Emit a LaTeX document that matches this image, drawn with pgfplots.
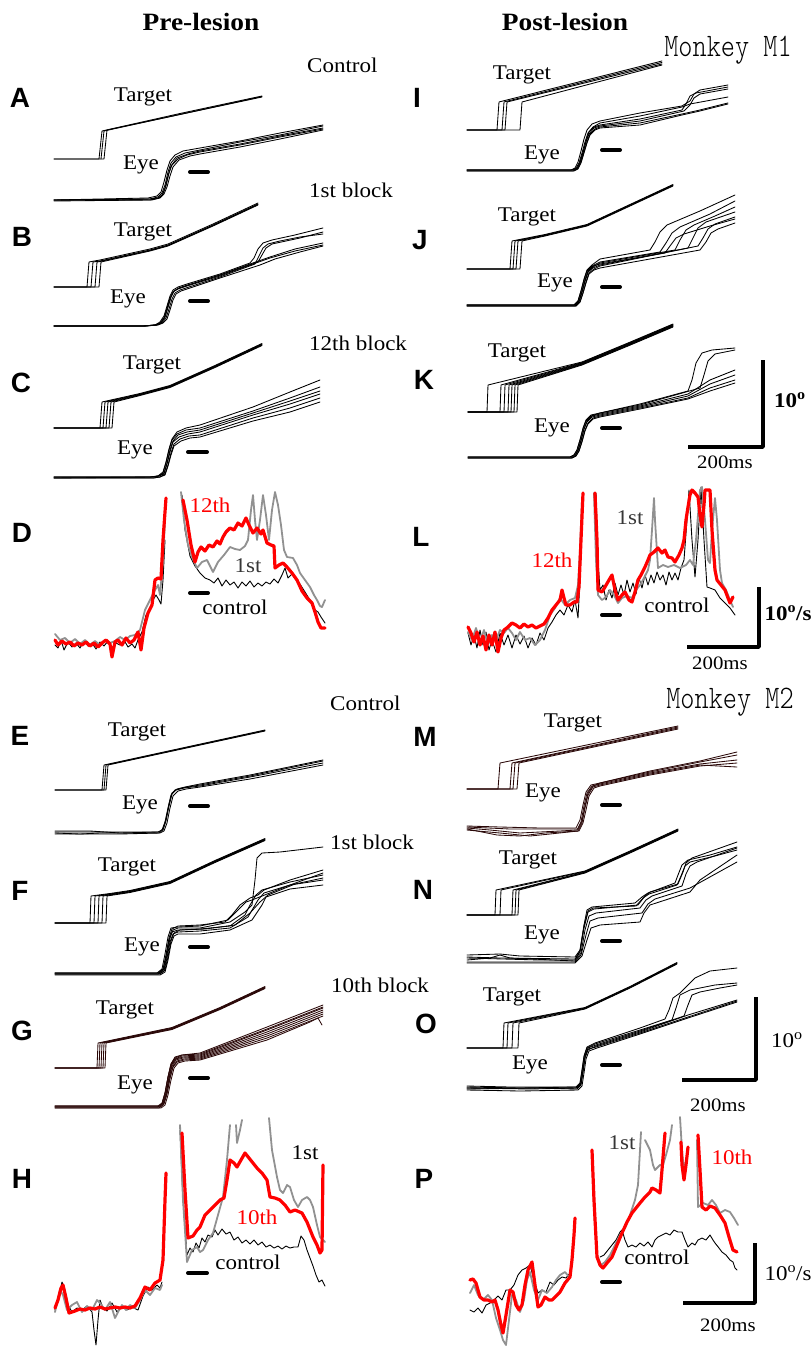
\documentclass[border=0pt]{standalone}
\usepackage{pgfplots}
\pgfplotsset{compat=1.18}
\usepackage{fontspec}
\setmainfont{Liberation Serif}[FakeStretch=1.1]
\newfontfamily\lsans{Liberation Sans}
\newfontfamily\lmono{Latin Modern Mono Light}[FakeStretch=0.82]
\definecolor{vgray}{RGB}{145,145,145}
\definecolor{dbrown}{RGB}{42,8,8}
\definecolor{dgray}{RGB}{55,55,55}
\tikzset{
 tr/.style={black, line width=0.85bp},
 trb/.style={dbrown, line width=0.85bp},
 vc/.style={black, line width=0.9bp},
 vg/.style={vgray, line width=1.8bp},
 vr/.style={red, line width=3.2bp},
 hb/.style={black, line width=4bp},
 sb/.style={black, line width=3.5bp},
 lab/.style={font=\fontsize{21}{24}\selectfont, inner sep=0pt},
 plab/.style={font=\lsans\bfseries\fontsize{28}{30}\selectfont, inner sep=0pt},
 ttl/.style={font=\bfseries\fontsize{25}{28}\selectfont, inner sep=0pt},
}
\begin{document}
\begin{tikzpicture}
\begin{axis}[
  width=810bp, height=1351bp, scale only axis,
  xmin=0, xmax=810, ymin=0, ymax=1351, y dir=reverse,
  hide axis, clip=false, no markers,
  every axis plot/.append style={line join=round, line cap=round},
]
\path (axis cs:0,0) rectangle (axis cs:810,1351);
% ---------- titles ----------
\node[ttl] at (axis cs:201,22) {Pre-lesion};
\node[ttl] at (axis cs:565,22) {Post-lesion};
\node[font=\lmono\fontsize{33}{36}\selectfont, inner sep=0pt] at (axis cs:728,50) {Monkey M1};
\node[font=\lmono\fontsize{33}{36}\selectfont, inner sep=0pt] at (axis cs:730,702) {Monkey M2};
% ---------- panel letters ----------
\node[plab] at (axis cs:20,98) {A};
\node[plab] at (axis cs:22,237) {B};
\node[plab] at (axis cs:21,383) {C};
\node[plab] at (axis cs:22,533) {D};
\node[plab] at (axis cs:20,736) {E};
\node[plab] at (axis cs:20,891) {F};
\node[plab] at (axis cs:22,1031) {G};
\node[plab] at (axis cs:22,1179) {H};
\node[plab] at (axis cs:417,98) {I};
\node[plab] at (axis cs:420,240) {J};
\node[plab] at (axis cs:424,380) {K};
\node[plab] at (axis cs:421,537) {L};
\node[plab] at (axis cs:425,737) {M};
\node[plab] at (axis cs:423,890) {N};
\node[plab] at (axis cs:426,1024) {O};
\node[plab] at (axis cs:424,1179) {P};
% ================= PANEL A =================
\addplot[tr] coordinates {(54,159)(99,159)(102,131)(180,113.5)(262,96)};
\addplot[tr] coordinates {(54,159)(104,159)(107,130)(180,114.5)(262,97)};
\addplot[tr] coordinates {(101,159)(104,131)(262,96.5)};
\addplot[tr] coordinates {(54,200)(120,200)(150,199)(158,197)(162,193)(165,185)(168,172)(171,163)(176,157)(185,153)(200,150)(240,142)(280,135)(323,126)};
\addplot[tr] coordinates {(54,201)(150,200)(159,198)(163,194)(166,186)(169,173)(172,165)(178,159)(187,155)(200,152)(240,145)(280,137)(323,129)};
\addplot[tr] coordinates {(54,200)(148,198)(157,196)(161,192)(164,182)(167,170)(170,161)(175,155)(183,151)(200,148)(240,141)(280,133)(323,125)};
\addplot[tr] coordinates {(54,200)(152,200)(160,198)(164,194)(167,187)(170,176)(173,167)(179,160)(190,156)(200,154)(240,147)(280,139)(323,130)};
\addplot[tr] coordinates {(54,200)(150,199)(158,198)(162,195)(165,188)(168,176)(171,166)(177,158)(188,154)(200,151)(240,144)(280,136)(323,128)};
\addplot[hb] coordinates {(190,172)(208,172)};
\node[lab] at (axis cs:143,97) {Target};
\node[lab] at (axis cs:141,165) {Eye};
\node[lab,anchor=west] at (axis cs:307,65) {Control};
% ================= PANEL B =================
\addplot[tr] coordinates {(54,287)(87,287)(89,262)(100,260)(150,249)(168,244)(213,224)(258,203)};
\addplot[tr] coordinates {(54,287)(91,287)(93,262)(100,261)(150,250)(168,245)(213,225)(258,204)};
\addplot[tr] coordinates {(54,287)(95,287)(97,262)(100,261.5)(150,250.5)(168,245.5)(213,225.5)(258,204.5)};
\addplot[tr] coordinates {(54,287)(99,287)(101,262)(150,251)(168,246)(213,226)(258,205)};
\addplot[tr] coordinates {(54,326)(143,326)(155,325)(160,323)(164,318)(167,308)(170,298)(173,292)(178,289)(187,286)(220,276)(253,264)(270,258)(295,251)(323,245)};
\addplot[tr] coordinates {(54,326)(144,326)(156,325)(161,323)(165,317)(168,307)(171,297)(174,291)(179,288)(188,285)(220,275)(250,264)(270,257)(295,249)(323,243)};
\addplot[tr] coordinates {(54,326)(143,326)(155,325)(160,322)(164,316)(167,306)(170,296)(173,290)(178,287)(187,284)(220,274)(250,263)(254,258)(258,249)(263,243)(272,240)(295,235)(323,228)};
\addplot[tr] coordinates {(54,326)(145,326)(157,325)(162,323)(166,318)(169,309)(172,299)(175,293)(180,290)(189,287)(220,277)(255,264)(259,256)(263,248)(268,244)(280,241)(300,237)(323,234)};
\addplot[tr] coordinates {(54,326)(144,326)(156,325)(161,323)(165,317)(168,307)(171,297)(174,291)(179,288)(188,285)(220,275)(258,262)(262,255)(266,248)(272,244)(300,238)(323,232)};
\addplot[tr] coordinates {(54,326)(146,326)(158,325)(163,323)(167,319)(170,310)(173,300)(176,294)(181,291)(190,288)(220,278)(260,265)(275,259)(300,252)(323,246)};
\addplot[hb] coordinates {(190,301)(208,301)};
\node[lab] at (axis cs:143,232) {Target};
\node[lab] at (axis cs:128,299) {Eye};
\node[lab,anchor=west] at (axis cs:309,190) {1st block};
% ================= PANEL C =================
\addplot[tr] coordinates {(54,428)(100,428)(102,402)(140,393.5)(170,385.5)(215,365.5)(262,343.5)};
\addplot[tr] coordinates {(54,428)(103,428)(105,402)(140,394)(170,386)(215,366)(262,344)};
\addplot[tr] coordinates {(54,428)(106,428)(108,402)(140,394.5)(170,386.5)(215,366.5)(262,344.5)};
\addplot[tr] coordinates {(54,428)(109,428)(111,402)(140,395)(170,387)(215,367)(262,345)};
\addplot[tr] coordinates {(54,428)(112,428)(114,402)(140,395.5)(170,387.5)(215,367.5)(262,345.5)};
\addplot[tr] coordinates {(54,477)(150,477)(158,476)(163,472)(166,462)(169,449)(172,439)(177,432)(186,428)(200,425)(253,407)(290,392)(320,380)};
\addplot[tr] coordinates {(54,477)(150,477)(158,476)(163,473)(166,463)(169,450)(172,440)(177,434)(186,430)(200,428)(253,411)(290,398)(320,387)};
\addplot[tr] coordinates {(54,478)(152,477)(159,476)(164,473)(167,463)(170,450)(173,441)(178,435)(187,432)(200,430)(253,413)(290,401)(320,391)};
\addplot[tr] coordinates {(54,477)(152,477)(159,476)(164,474)(167,464)(170,452)(173,442)(179,437)(188,434)(200,432)(253,415)(290,404)(320,394)};
\addplot[tr] coordinates {(54,478)(153,478)(160,477)(165,474)(168,465)(171,453)(174,444)(180,439)(189,436)(200,435)(253,418)(290,408)(320,398)};
\addplot[tr] coordinates {(54,478)(153,478)(160,477)(165,475)(168,466)(171,455)(174,446)(181,441)(190,438)(200,437)(253,421)(290,412)(320,402)};
\addplot[hb] coordinates {(188,452)(207,452)};
\node[lab] at (axis cs:152,365) {Target};
\node[lab] at (axis cs:135,450) {Eye};
\node[lab,anchor=west] at (axis cs:309,343) {12th block};
% ================= PANEL D =================
\addplot[vc] coordinates {(55,645)(58,648)(61,640)(64,650)(68,642)(72,647)(76,643)(80,648)(84,641)(88,646)(92,643)(96,649)(100,642)(104,646)(108,641)(112,648)(116,643)(120,645)(124,640)(128,647)(132,644)(135,648)(138,640)(142,632)(146,615)(150,610)(153,600)(156,595)(159,600)(161,604)(163,580)(165,540)};
\addplot[vg] coordinates {(55,634)(60,640)(65,638)(70,643)(75,639)(80,644)(85,640)(90,645)(95,641)(100,645)(105,640)(110,643)(115,641)(120,637)(125,640)(130,636)(135,635)(140,630)(145,610)(150,600)(155,590)(158,585)(160,595)(163,560)(165,520)};
\addplot[vr] coordinates {(55,640)(58,645)(62,641)(66,644)(70,642)(74,646)(78,643)(82,645)(86,642)(90,646)(94,643)(98,647)(102,643)(106,640)(110,644)(112,657)(115,642)(118,640)(122,645)(126,638)(130,643)(134,640)(138,632)(141,650)(144,628)(148,613)(152,605)(155,580)(158,578)(161,579)(163,540)(166,498)};
\addplot[vc] coordinates {(182,495)(185,530)(190,556)(195,566)(200,573)(205,578)(210,580)(214,583)(218,578)(222,586)(226,580)(230,585)(234,582)(238,588)(242,582)(246,586)(250,581)(254,587)(258,583)(262,586)(266,582)(270,584)(274,579)(278,583)(282,575)(285,568)(288,578)(292,574)(296,580)(300,584)(305,592)(310,600)(315,610)(318,612)(321,617)(325,623)};
\addplot[vg] coordinates {(181,492)(184,520)(188,545)(192,557)(197,568)(202,562)(207,560)(211,568)(213,572)(218,562)(224,555)(230,547)(235,549)(240,550)(245,546)(248,540)(251,510)(253,495)(255,520)(257,540)(260,520)(263,495)(266,515)(269,540)(272,510)(275,492)(278,505)(281,525)(284,550)(287,557)(293,558)(297,565)(300,573)(305,580)(310,587)(314,595)(317,600)(320,606)(322,607)(325,600)};
\addplot[vr] coordinates {(183,500)(187,520)(191,545)(195,562)(198,552)(201,547)(205,551)(209,545)(213,547)(217,541)(220,544)(223,537)(226,532)(230,528)(234,530)(238,523)(242,526)(246,518)(249,525)(253,533)(257,528)(261,534)(263,530)(267,543)(271,545)(274,546)(275,568)(279,565)(283,563)(287,567)(292,573)(297,580)(302,591)(307,598)(312,603)(315,612)(318,622)(321,628)(325,628)};
\addplot[hb] coordinates {(190,593)(208,593)};
\node[lab, text=red] at (axis cs:210,505) {12th};
\node[lab, text=dgray] at (axis cs:248,566) {1st};
\node[lab] at (axis cs:235,607) {control};
% ================= PANEL E =================
\addplot[tr] coordinates {(55,790)(102,790)(104,765)(265,730)};
\addplot[tr] coordinates {(55,790)(104,790)(106,765)(265,730.5)};
\addplot[tr] coordinates {(55,790)(106,790)(108,765)(265,731)};
\addplot[tr] coordinates {(55,831)(90,831)(120,833)(158,832)(162,830)(165,822)(168,808)(171,795)(175,790)(182,788)(200,785)(250,776)(323,761)};
\addplot[tr] coordinates {(55,833)(80,834)(100,833)(159,833)(163,830)(166,821)(169,806)(172,794)(176,790)(184,788)(200,786)(250,777)(323,763)};
\addplot[tr] coordinates {(55,832)(159,832)(163,829)(166,819)(169,804)(172,793)(177,789)(185,787)(200,784)(250,775)(323,760)};
\addplot[tr] coordinates {(55,834)(120,834)(160,833)(164,831)(167,823)(170,808)(173,796)(178,791)(186,789)(200,787)(250,779)(323,765)};
\addplot[hb] coordinates {(190,806)(208,806)};
\node[lab] at (axis cs:137,732) {Target};
\node[lab] at (axis cs:140,805) {Eye};
\node[lab,anchor=west] at (axis cs:330,703) {Control};
% ================= PANEL F =================
\addplot[tr] coordinates {(55,923)(90,923)(91,896)(110,893.5)(130,890.5)(170,881.5)(215,860.5)(265,838.5)};
\addplot[tr] coordinates {(55,923)(94,923)(95,896)(110,894)(130,891)(170,882)(215,861)(265,839)};
\addplot[tr] coordinates {(55,923)(98,923)(99,896)(110,894.5)(130,891.5)(170,882.5)(215,861.5)(265,839.5)};
\addplot[tr] coordinates {(55,923)(102,923)(103,896)(110,895)(130,892)(170,883)(215,862)(265,840)};
\addplot[tr] coordinates {(55,923)(106,923)(107,896)(110,895.5)(130,892.5)(170,883.5)(215,862.5)(265,840.5)};
\addplot[tr] coordinates {(55,973)(158,973)(163,969)(166,955)(169,938)(172,929)(178,926)(200,925)(225,922)(232,915)(240,905)(250,898)(258,895)(264,890)(290,880)(323,870)};
\addplot[tr] coordinates {(55,974)(158,974)(163,970)(166,957)(169,940)(172,932)(178,930)(200,929)(230,926)(245,915)(250,905)(256,895)(262,890)(290,882)(323,875)};
\addplot[tr] coordinates {(55,973)(159,973)(164,969)(167,955)(170,938)(173,930)(178,928)(200,928)(230,922)(245,912)(252,905)(255,880)(257,858)(262,853)(280,852)(323,847)};
\addplot[tr] coordinates {(55,974)(159,974)(164,971)(167,958)(170,942)(173,934)(178,932)(200,931)(230,928)(248,917)(258,900)(264,893)(290,885)(323,880)};
\addplot[tr] coordinates {(55,975)(160,975)(165,972)(168,960)(171,944)(174,936)(178,934)(200,934)(230,930)(252,920)(262,905)(266,897)(290,889)(323,885)};
\addplot[tr] coordinates {(55,973)(157,973)(162,969)(165,954)(168,937)(171,928)(178,927)(200,926)(228,920)(240,908)(246,902)(252,900)(290,885)(323,873)};
\addplot[tr] coordinates {(55,974)(160,974)(165,970)(168,957)(171,941)(174,933)(180,930)(205,929)(235,925)(250,913)(260,902)(268,895)(295,884)(323,878)};
\addplot[hb] coordinates {(190,947)(208,947)};
\node[lab] at (axis cs:127,867) {Target};
\node[lab] at (axis cs:142,947) {Eye};
\node[lab,anchor=west] at (axis cs:330,842) {1st block};
% ================= PANEL G =================
\addplot[trb] coordinates {(55,1068)(97,1068)(98,1043)(172,1027.5)(220,1007.5)(265,986.5)};
\addplot[trb] coordinates {(55,1068)(99,1068)(100,1043)(172,1028)(220,1008)(265,987)};
\addplot[trb] coordinates {(55,1068)(101,1068)(102,1043)(172,1028.5)(220,1008.5)(265,987.5)};
\addplot[trb] coordinates {(55,1068)(103,1068)(104,1043)(172,1029)(220,1009)(265,988)};
\addplot[trb] coordinates {(55,1068)(105,1068)(106,1043)(172,1029.5)(220,1009.5)(265,988.5)};
\addplot[trb] coordinates {(55,1106)(158,1106)(162,1103)(165,1093)(168,1077)(171,1064)(175,1058)(182,1055)(200,1053)(267,1027)(323,1005)};
\addplot[trb] coordinates {(55,1107)(158,1107)(162,1104)(165,1094)(168,1078)(171,1065)(175,1059)(182,1056)(200,1055)(267,1030)(323,1008)};
\addplot[trb] coordinates {(55,1106)(159,1106)(163,1103)(166,1093)(169,1077)(172,1064)(176,1059)(183,1057)(200,1056)(267,1032)(323,1010)};
\addplot[trb] coordinates {(55,1108)(159,1108)(163,1105)(166,1095)(169,1079)(172,1066)(176,1060)(183,1058)(200,1057)(267,1034)(323,1012)};
\addplot[trb] coordinates {(55,1107)(160,1107)(164,1104)(167,1094)(170,1078)(173,1066)(177,1061)(184,1059)(200,1058)(267,1036)(323,1014)};
\addplot[trb] coordinates {(55,1106)(160,1106)(164,1103)(167,1093)(170,1078)(173,1067)(177,1062)(184,1060)(200,1059)(267,1038)(300,1025)(323,1016)};
\addplot[trb] coordinates {(55,1108)(161,1108)(165,1105)(168,1095)(171,1080)(174,1068)(178,1063)(185,1061)(200,1060)(267,1040)(310,1022)(318,1018)(322,1025)};
\addplot[trb] coordinates {(55,1107)(158,1107)(162,1104)(165,1093)(168,1077)(171,1064)(175,1057)(182,1055)(200,1054)(267,1029)(323,1007)};
\addplot[hb] coordinates {(190,1078)(208,1078)};
\node[lab] at (axis cs:125,1010) {Target};
\node[lab] at (axis cs:135,1085) {Eye};
\node[lab,anchor=west] at (axis cs:331,985) {10th block};
% ================= PANEL H =================
\addplot[vc] coordinates {(55,1310)(58,1300)(62,1282)(65,1290)(68,1305)(72,1312)(77,1308)(82,1310)(87,1306)(92,1312)(94,1330)(96,1345)(98,1320)(100,1300)(103,1308)(107,1311)(112,1303)(117,1312)(122,1306)(127,1310)(132,1307)(138,1310)(143,1296)(148,1287)(152,1290)(157,1285)(160,1288)(162,1282)};
\addplot[vg] coordinates {(55,1312)(60,1290)(63,1295)(67,1310)(72,1305)(77,1302)(82,1312)(87,1306)(92,1310)(97,1300)(100,1303)(105,1310)(110,1302)(115,1318)(118,1312)(122,1305)(126,1310)(130,1305)(135,1308)(140,1300)(145,1290)(150,1295)(155,1288)(160,1290)(162,1285)};
\addplot[vr] coordinates {(55,1308)(58,1300)(61,1288)(63,1285)(66,1298)(69,1313)(75,1311)(80,1309)(85,1310)(90,1308)(95,1309)(100,1307)(105,1309)(110,1308)(115,1307)(120,1308)(125,1307)(130,1308)(135,1306)(140,1298)(145,1287)(150,1290)(155,1283)(160,1280)(163,1260)(165,1200)(166,1173)};
\addplot[vc] coordinates {(180,1130)(183,1200)(187,1255)(190,1248)(193,1252)(196,1243)(199,1248)(202,1238)(205,1242)(208,1235)(212,1237)(215,1230)(218,1235)(222,1229)(226,1234)(230,1232)(234,1240)(238,1237)(242,1243)(246,1240)(250,1244)(254,1240)(258,1245)(262,1242)(266,1247)(270,1245)(274,1248)(278,1246)(282,1249)(286,1246)(290,1248)(294,1247)(298,1247)(301,1236)(304,1240)(307,1250)(310,1258)(313,1266)(316,1275)(319,1282)(322,1280)(325,1286)};
\addplot[vg] coordinates {(180,1125)(183,1200)(187,1262)(192,1250)(197,1247)(200,1252)(203,1250)(208,1240)(213,1233)(218,1215)(223,1197)(227,1160)(230,1125)};
\addplot[vg] coordinates {(236,1125)(237,1143)(240,1130)(242,1120)};
\addplot[vg] coordinates {(269,1118)(272,1150)(277,1177)(280,1190)(283,1193)(287,1185)(290,1187)(294,1200)(298,1207)(302,1200)(307,1197)(310,1200)(313,1207)(317,1225)(320,1237)(325,1242)};
\addplot[vr] coordinates {(182,1133)(185,1190)(188,1238)(193,1236)(197,1230)(200,1227)(205,1215)(210,1210)(215,1205)(220,1200)(224,1198)(227,1180)(230,1160)(234,1163)(237,1167)(241,1160)(245,1153)(249,1158)(253,1163)(257,1168)(262,1173)(267,1180)(270,1197)(275,1198)(280,1200)(285,1205)(290,1212)(295,1210)(302,1213)(307,1222)(313,1237)(317,1245)(320,1253)(322,1250)(323,1165)};
\addplot[hb] coordinates {(188,1273)(207,1273)};
\node[lab] at (axis cs:305,1153) {1st};
\node[lab, text=red] at (axis cs:257,1217) {10th};
\node[lab] at (axis cs:248,1262) {control};
% ================= PANEL I =================
\addplot[tr] coordinates {(467,130)(497,130)(499,102)(662,61)};
\addplot[tr] coordinates {(467,130)(502,130)(504,102)(662,62.5)};
\addplot[tr] coordinates {(467,130)(505,130)(507,102)(662,64)};
\addplot[tr] coordinates {(467,130)(520,130)(522,102)(662,65)};
\addplot[tr] coordinates {(467,170)(572,170)(576,168)(579,163)(582,153)(585,142)(588,133)(593,127)(600,123)(640,116)(682,107)(690,104)(728,97)};
\addplot[tr] coordinates {(467,170)(573,170)(577,168)(580,162)(583,152)(586,141)(589,132)(594,127)(600,125)(640,119)(682,110)(686,104)(690,96)(696,93)(728,87)};
\addplot[tr] coordinates {(467,171)(573,171)(577,169)(580,163)(583,153)(586,142)(589,134)(594,128)(600,126)(640,121)(684,111)(690,105)(694,98)(700,94)(728,89)};
\addplot[tr] coordinates {(467,170)(574,170)(578,168)(581,162)(584,152)(587,142)(590,134)(595,129)(600,127)(640,123)(682,114)(700,110)(728,103)};
\addplot[tr] coordinates {(467,171)(574,171)(578,169)(581,163)(584,153)(587,143)(590,135)(595,130)(600,128)(640,125)(682,115)(700,111)(728,104)};
\addplot[tr] coordinates {(467,170)(571,170)(575,168)(578,162)(581,151)(584,139)(587,130)(592,124)(600,121)(640,113)(682,106)(690,101)(694,94)(700,90)(728,85)};
\addplot[hb] coordinates {(602,150)(620,150)};
\node[lab] at (axis cs:522,75) {Target};
\node[lab] at (axis cs:542,155) {Eye};
% ================= PANEL J =================
\addplot[tr] coordinates {(467,269)(510,269)(512,241)(545,234.5)(587,224.5)(630,204.5)(673,184.5)};
\addplot[tr] coordinates {(467,269)(513,269)(515,241)(545,235)(587,225)(630,205)(673,185)};
\addplot[tr] coordinates {(467,269)(516,269)(518,241)(545,235.5)(587,225.5)(630,205.5)(673,185.5)};
\addplot[tr] coordinates {(467,269)(520,269)(522,241)(545,236)(587,226)(630,206)(673,186)};
\addplot[tr] coordinates {(467,305)(574,305)(578,301)(581,291)(584,279)(587,270)(592,265)(600,259)(650,250)(655,242)(660,232)(667,225)(700,211)(735,195)};
\addplot[tr] coordinates {(467,305)(574,305)(578,301)(581,291)(584,280)(587,271)(592,266)(600,262)(660,252)(666,243)(672,233)(680,227)(710,214)(735,201)};
\addplot[tr] coordinates {(467,306)(575,306)(579,302)(582,292)(585,281)(588,272)(593,267)(600,263)(675,250)(680,240)(686,230)(694,225)(715,216)(735,207)};
\addplot[tr] coordinates {(467,305)(575,305)(579,301)(582,292)(585,281)(588,272)(593,268)(600,265)(688,248)(693,238)(698,228)(706,222)(735,212)};
\addplot[tr] coordinates {(467,306)(576,306)(580,302)(583,293)(586,282)(589,273)(594,269)(600,266)(698,246)(703,238)(708,229)(715,224)(735,217)};
\addplot[tr] coordinates {(467,306)(576,306)(580,302)(583,293)(586,283)(589,274)(594,270)(600,268)(700,250)(706,242)(711,233)(718,229)(735,223)};
\addplot[tr] coordinates {(467,305)(575,305)(579,301)(582,291)(585,280)(588,271)(593,266)(600,264)(665,253)(670,246)(676,238)(684,234)(710,226)(735,219)};
\addplot[hb] coordinates {(602,287)(620,287)};
\node[lab] at (axis cs:527,217) {Target};
\node[lab] at (axis cs:555,283) {Eye};
% ================= PANEL K =================
\addplot[tr] coordinates {(468,412)(487,412)(488,385)(582,362)(628,343)(673,324)};
\addplot[tr] coordinates {(468,412)(500,412)(501,385)(582,362.5)(628,343.5)(673,324.5)};
\addplot[tr] coordinates {(468,412)(504,412)(505,385)(582,363)(628,344)(673,325)};
\addplot[tr] coordinates {(468,412)(508,412)(509,385)(582,363.5)(628,344.5)(673,325.5)};
\addplot[tr] coordinates {(468,412)(511,412)(512,385)(582,364)(628,345)(673,326)};
\addplot[tr] coordinates {(468,412)(514,412)(515,385)(582,364.5)(628,345.5)(673,326.5)};
\addplot[tr] coordinates {(468,412)(517,412)(518,385)(582,365)(628,346)(673,327)};
\addplot[tr] coordinates {(468,457)(570,457)(574,455)(577,450)(580,440)(583,428)(586,420)(591,415)(600,413)(640,404)(688,391)(692,380)(696,363)(702,353)(712,350)(735,348)};
\addplot[tr] coordinates {(468,457)(570,457)(574,455)(577,450)(580,440)(583,429)(586,421)(591,416)(600,413)(640,405)(700,388)(704,375)(708,361)(715,354)(735,350)};
\addplot[tr] coordinates {(468,458)(571,458)(575,456)(578,451)(581,441)(584,429)(587,421)(592,416)(600,414)(640,406)(688,394)(710,380)(735,370)};
\addplot[tr] coordinates {(468,457)(571,457)(575,455)(578,450)(581,440)(584,429)(587,422)(592,417)(600,415)(640,407)(688,396)(710,384)(735,375)};
\addplot[tr] coordinates {(468,458)(572,458)(576,456)(579,451)(582,441)(585,430)(588,423)(593,418)(600,416)(640,408)(688,398)(710,388)(735,380)};
\addplot[tr] coordinates {(468,458)(572,458)(576,456)(579,451)(582,442)(585,431)(588,424)(593,419)(600,417)(640,409)(688,399)(710,391)(735,383)};
\addplot[hb] coordinates {(602,428)(620,428)};
\node[lab] at (axis cs:517,353) {Target};
\node[lab] at (axis cs:552,428) {Eye};
\addplot[sb, line cap=butt] coordinates {(688,447)(763,447)(763,360)};
\node[lab, font=\bfseries\fontsize{21}{24}\selectfont] at (axis cs:790,400) {10\textsuperscript{o}};
\node[lab, font=\fontsize{19}{22}\selectfont] at (axis cs:725,462) {200ms};
% ================= PANEL L =================
\addplot[vc] coordinates {(468,633)(471,645)(474,635)(477,648)(480,630)(483,645)(486,632)(489,650)(492,640)(496,652)(500,633)(504,645)(508,635)(512,648)(516,635)(520,644)(524,636)(528,648)(532,638)(536,645)(540,633)(544,640)(548,628)(552,622)(556,615)(560,610)(564,615)(568,605)(572,612)(575,600)(578,618)(580,580)(582,520)};
\addplot[vg] coordinates {(468,632)(472,640)(476,628)(480,642)(484,630)(488,645)(492,635)(496,640)(500,630)(504,633)(508,628)(512,633)(516,640)(520,632)(525,640)(530,638)(535,645)(540,640)(545,630)(550,615)(555,608)(560,598)(565,605)(570,600)(575,598)(578,585)(580,550)(582,500)};
\addplot[vr] coordinates {(468,627)(471,633)(474,642)(477,632)(480,645)(483,636)(486,650)(489,635)(492,645)(495,632)(498,652)(501,638)(504,630)(508,627)(512,623)(516,625)(520,628)(524,624)(528,627)(532,625)(536,628)(540,626)(544,624)(548,618)(552,610)(556,605)(560,600)(562,590)(564,598)(566,605)(570,605)(574,602)(577,602)(579,587)(581,540)(583,493)};
\addplot[vc] coordinates {(596,493)(598,560)(600,590)(603,585)(606,600)(609,590)(612,598)(615,583)(618,595)(621,585)(624,595)(627,580)(630,592)(633,583)(636,594)(639,578)(642,588)(645,575)(648,585)(651,575)(654,583)(657,572)(660,580)(663,575)(666,585)(669,572)(672,580)(675,573)(678,580)(681,568)(684,560)(687,520)(689,490)(692,540)(695,577)(698,540)(701,487)(704,540)(707,587)(710,588)(715,590)(720,598)(725,603)(730,608)(735,615)};
\addplot[vg] coordinates {(594,493)(596,560)(598,595)(602,600)(606,597)(610,590)(614,595)(618,603)(622,598)(627,596)(632,598)(636,590)(640,585)(644,578)(648,570)(650,560)(652,530)(654,498)(655,520)(658,568)(663,565)(668,567)(674,565)(680,568)(686,565)(690,560)(693,565)(696,540)(700,490)(702,487)(705,520)(708,560)(710,563)(712,530)(715,498)(717,520)(720,570)(722,583)(726,590)(730,600)(733,607)};
\addplot[vr] coordinates {(595,493)(597,540)(598,590)(602,592)(605,587)(609,580)(612,575)(615,590)(618,600)(622,595)(625,592)(629,600)(632,602)(635,592)(638,580)(641,575)(645,567)(648,560)(650,555)(654,552)(658,548)(662,553)(665,550)(668,557)(672,558)(675,562)(679,555)(682,548)(684,540)(686,520)(688,507)(690,495)(692,490)(695,493)(698,497)(700,515)(702,527)(704,505)(705,490)(708,490)(710,490)(712,530)(715,570)(717,580)(721,585)(725,590)(728,598)(730,603)(733,597)};
\addplot[hb] coordinates {(602,615)(620,615)};
\node[lab, text=dgray] at (axis cs:630,518) {1st};
\node[lab, text=red] at (axis cs:552,560) {12th};
\node[lab] at (axis cs:677,605) {control};
\addplot[sb, line cap=butt] coordinates {(687,647)(759,647)(759,587)};
\node[lab, font=\bfseries\fontsize{21}{24}\selectfont] at (axis cs:788,613) {10\textsuperscript{o}/s};
\node[lab, font=\fontsize{19}{22}\selectfont] at (axis cs:720,663) {200ms};
% ================= PANEL M =================
\addplot[trb] coordinates {(467,789)(498,789)(500,763)(678,726)};
\addplot[trb] coordinates {(467,789)(510,789)(512,763)(678,727)};
\addplot[trb] coordinates {(467,789)(513,789)(515,763)(678,728)};
\addplot[trb] coordinates {(467,789)(517,789)(519,763)(678,729)};
\addplot[trb] coordinates {(467,826)(500,827)(540,828)(576,828)(580,820)(583,805)(586,792)(591,785)(600,783)(650,772)(700,762)(737,755)};
\addplot[trb] coordinates {(467,828)(490,830)(520,833)(560,831)(577,830)(581,822)(584,806)(587,793)(592,786)(600,784)(650,773)(700,764)(737,760)};
\addplot[trb] coordinates {(467,830)(500,833)(530,836)(550,834)(578,831)(582,823)(585,808)(588,795)(593,787)(600,785)(650,774)(700,765)(737,767)};
\addplot[trb] coordinates {(467,827)(510,829)(545,829)(578,829)(582,821)(585,806)(588,793)(593,786)(600,783)(650,771)(700,761)(737,752)};
\addplot[trb] coordinates {(467,829)(497,835)(520,836)(545,833)(579,831)(583,823)(586,810)(589,796)(594,788)(600,786)(650,775)(700,766)(737,763)};
\addplot[hb] coordinates {(602,805)(620,805)};
\node[lab] at (axis cs:573,723) {Target};
\node[lab] at (axis cs:543,793) {Eye};
% ================= PANEL N =================
\addplot[tr] coordinates {(467,915)(495,915)(496,890)(585,871)(630,851)(678,829)};
\addplot[tr] coordinates {(467,915)(500,915)(501,890)(585,871.5)(630,851.5)(678,829.5)};
\addplot[tr] coordinates {(467,915)(512,915)(513,890)(585,872)(630,852)(678,830)};
\addplot[tr] coordinates {(467,915)(515,915)(516,890)(585,872.5)(630,852.5)(678,830.5)};
\addplot[tr] coordinates {(467,915)(518,915)(519,890)(585,873)(630,853)(678,831)};
\addplot[tr] coordinates {(467,955)(500,954)(520,956)(575,957)(580,950)(584,925)(587,910)(592,907)(635,903)(642,897)(648,893)(675,883)(678,875)(682,865)(688,860)(710,855)(737,847)};
\addplot[tr] coordinates {(467,958)(540,960)(575,960)(580,952)(584,928)(588,912)(594,909)(638,905)(645,896)(650,892)(678,884)(683,872)(686,863)(692,858)(737,842)};
\addplot[tr] coordinates {(467,960)(490,958)(500,955)(510,958)(575,961)(581,953)(585,930)(589,916)(596,913)(640,908)(646,900)(652,896)(682,886)(686,874)(690,866)(697,862)(737,848)};
\addplot[tr] coordinates {(467,962)(575,962)(581,955)(586,935)(590,921)(598,918)(642,913)(648,904)(655,899)(690,888)(737,862)};
\addplot[tr] coordinates {(467,963)(575,963)(582,956)(587,940)(591,928)(600,925)(640,922)(644,913)(650,905)(690,892)(700,880)(737,855)};
\addplot[tr] coordinates {(467,957)(500,958)(575,959)(580,951)(584,926)(588,911)(593,908)(636,906)(643,898)(649,894)(677,885)(681,876)(685,866)(690,862)(715,856)(737,850)};
\addplot[hb] coordinates {(602,941)(620,941)};
\node[lab] at (axis cs:528,860) {Target};
\node[lab] at (axis cs:542,935) {Eye};
% ================= PANEL O =================
\addplot[tr] coordinates {(467,1048)(503,1048)(504,1023)(585,1007.5)(630,986.5)(677,962.5)};
\addplot[tr] coordinates {(467,1048)(507,1048)(508,1023)(585,1008)(630,987)(677,963)};
\addplot[tr] coordinates {(467,1048)(512,1048)(513,1023)(585,1008.5)(630,987.5)(677,963.5)};
\addplot[tr] coordinates {(467,1048)(518,1048)(519,1023)(585,1009)(630,988)(677,964)};
\addplot[tr] coordinates {(467,1087)(520,1088)(576,1087)(580,1083)(582,1070)(584,1056)(587,1047)(595,1043)(640,1028)(665,1019)(669,1010)(673,998)(680,993)(695,978)(710,971)(737,968)};
\addplot[tr] coordinates {(467,1088)(530,1089)(576,1088)(580,1084)(582,1071)(584,1057)(587,1048)(595,1044)(640,1030)(672,1020)(676,1008)(680,995)(690,990)(715,985)(737,983)};
\addplot[tr] coordinates {(467,1086)(510,1087)(577,1087)(581,1083)(583,1070)(585,1056)(588,1048)(596,1045)(640,1031)(684,1016)(688,1005)(692,995)(700,992)(720,988)(737,985)};
\addplot[tr] coordinates {(467,1089)(540,1088)(577,1089)(581,1085)(583,1072)(585,1058)(588,1050)(596,1046)(640,1032)(688,1015)(737,1000)};
\addplot[tr] coordinates {(467,1088)(577,1088)(581,1084)(583,1071)(585,1057)(588,1049)(596,1047)(640,1033)(688,1017)(737,1001)};
\addplot[tr] coordinates {(467,1090)(520,1091)(578,1090)(582,1086)(584,1073)(586,1059)(589,1051)(597,1048)(640,1034)(688,1018)(737,1002)};
\addplot[hb] coordinates {(602,1065)(620,1065)};
\node[lab] at (axis cs:512,997) {Target};
\node[lab] at (axis cs:530,1065) {Eye};
\addplot[sb, line cap=butt] coordinates {(682,1080)(756,1080)(756,997)};
\node[lab] at (axis cs:787,1040) {10\textsuperscript{o}};
\node[lab, font=\fontsize{19}{22}\selectfont] at (axis cs:718,1105) {200ms};
% ================= PANEL P =================
\addplot[vc] coordinates {(470,1310)(474,1312)(478,1308)(482,1313)(486,1305)(490,1303)(494,1300)(498,1296)(502,1300)(506,1290)(510,1290)(514,1285)(518,1275)(522,1270)(526,1268)(530,1265)(534,1280)(538,1293)(542,1290)(546,1292)(550,1282)(554,1285)(558,1280)(562,1277)(566,1278)(570,1273)};
\addplot[vg] coordinates {(470,1293)(474,1285)(478,1295)(483,1300)(488,1295)(492,1300)(496,1318)(500,1330)(503,1340)(506,1345)(509,1320)(512,1295)(516,1300)(520,1312)(524,1300)(527,1280)(530,1272)(534,1290)(538,1300)(542,1290)(547,1293)(552,1287)(556,1280)(560,1275)(565,1272)(570,1278)};
\addplot[vr] coordinates {(470,1280)(473,1279)(476,1283)(480,1297)(484,1300)(488,1300)(492,1302)(495,1300)(498,1310)(501,1325)(503,1333)(506,1315)(510,1290)(513,1292)(516,1305)(519,1310)(522,1305)(525,1285)(528,1270)(532,1262)(535,1285)(538,1307)(541,1305)(545,1297)(549,1300)(552,1300)(556,1296)(560,1292)(565,1283)(570,1277)(572,1260)(574,1235)(575,1218)};
\addplot[vc] coordinates {(600,1257)(604,1255)(608,1250)(612,1245)(616,1240)(620,1232)(622,1230)(625,1240)(628,1247)(632,1245)(636,1247)(640,1243)(644,1246)(648,1242)(652,1247)(655,1240)(658,1237)(662,1235)(666,1233)(670,1235)(674,1230)(678,1232)(682,1232)(685,1240)(688,1247)(692,1243)(695,1245)(698,1240)(702,1238)(706,1240)(710,1235)(713,1240)(715,1243)(719,1248)(722,1252)(726,1255)(730,1260)(733,1262)(735,1268)(737,1270)};
\addplot[vg] coordinates {(592,1150)(594,1210)(597,1255)(601,1265)(605,1262)(610,1255)(615,1245)(620,1235)(625,1228)(630,1215)(635,1200)(638,1185)(640,1150)(641,1132)};
\addplot[vg] coordinates {(645,1140)(650,1150)(653,1165)(655,1170)(660,1165)(663,1165)(666,1155)(670,1140)(672,1125)};
\addplot[vg] coordinates {(680,1117)(682,1150)(684,1172)(686,1160)};
\addplot[vg] coordinates {(697,1140)(698,1207)(703,1203)(708,1205)(712,1200)(716,1205)(720,1213)(725,1210)(730,1212)(734,1218)(738,1225)};
\addplot[vr] coordinates {(592,1150)(594,1200)(597,1257)(600,1265)(603,1268)(607,1263)(612,1257)(617,1245)(622,1233)(627,1222)(632,1213)(636,1208)(640,1203)(645,1197)(650,1192)(652,1188)(656,1190)(660,1193)(662,1170)(665,1133)};
\addplot[vr] coordinates {(681,1142)(682,1165)(684,1180)(686,1165)(688,1147)};
\addplot[vr] coordinates {(698,1135)(700,1170)(702,1207)(706,1210)(710,1206)(715,1208)(720,1215)(725,1223)(729,1237)(733,1250)(737,1252)};
\addplot[hb] coordinates {(602,1282)(620,1282)};
\node[lab, text=dgray] at (axis cs:622,1143) {1st};
\node[lab, text=red] at (axis cs:732,1157) {10th};
\node[lab] at (axis cs:657,1257) {control};
\addplot[sb, line cap=butt] coordinates {(683,1303)(755,1303)(755,1243)};
\node[lab] at (axis cs:788,1273) {10\textsuperscript{o}/s};
\node[lab, font=\fontsize{19}{22}\selectfont] at (axis cs:728,1325) {200ms};
\end{axis}
\end{tikzpicture}
\end{document}
